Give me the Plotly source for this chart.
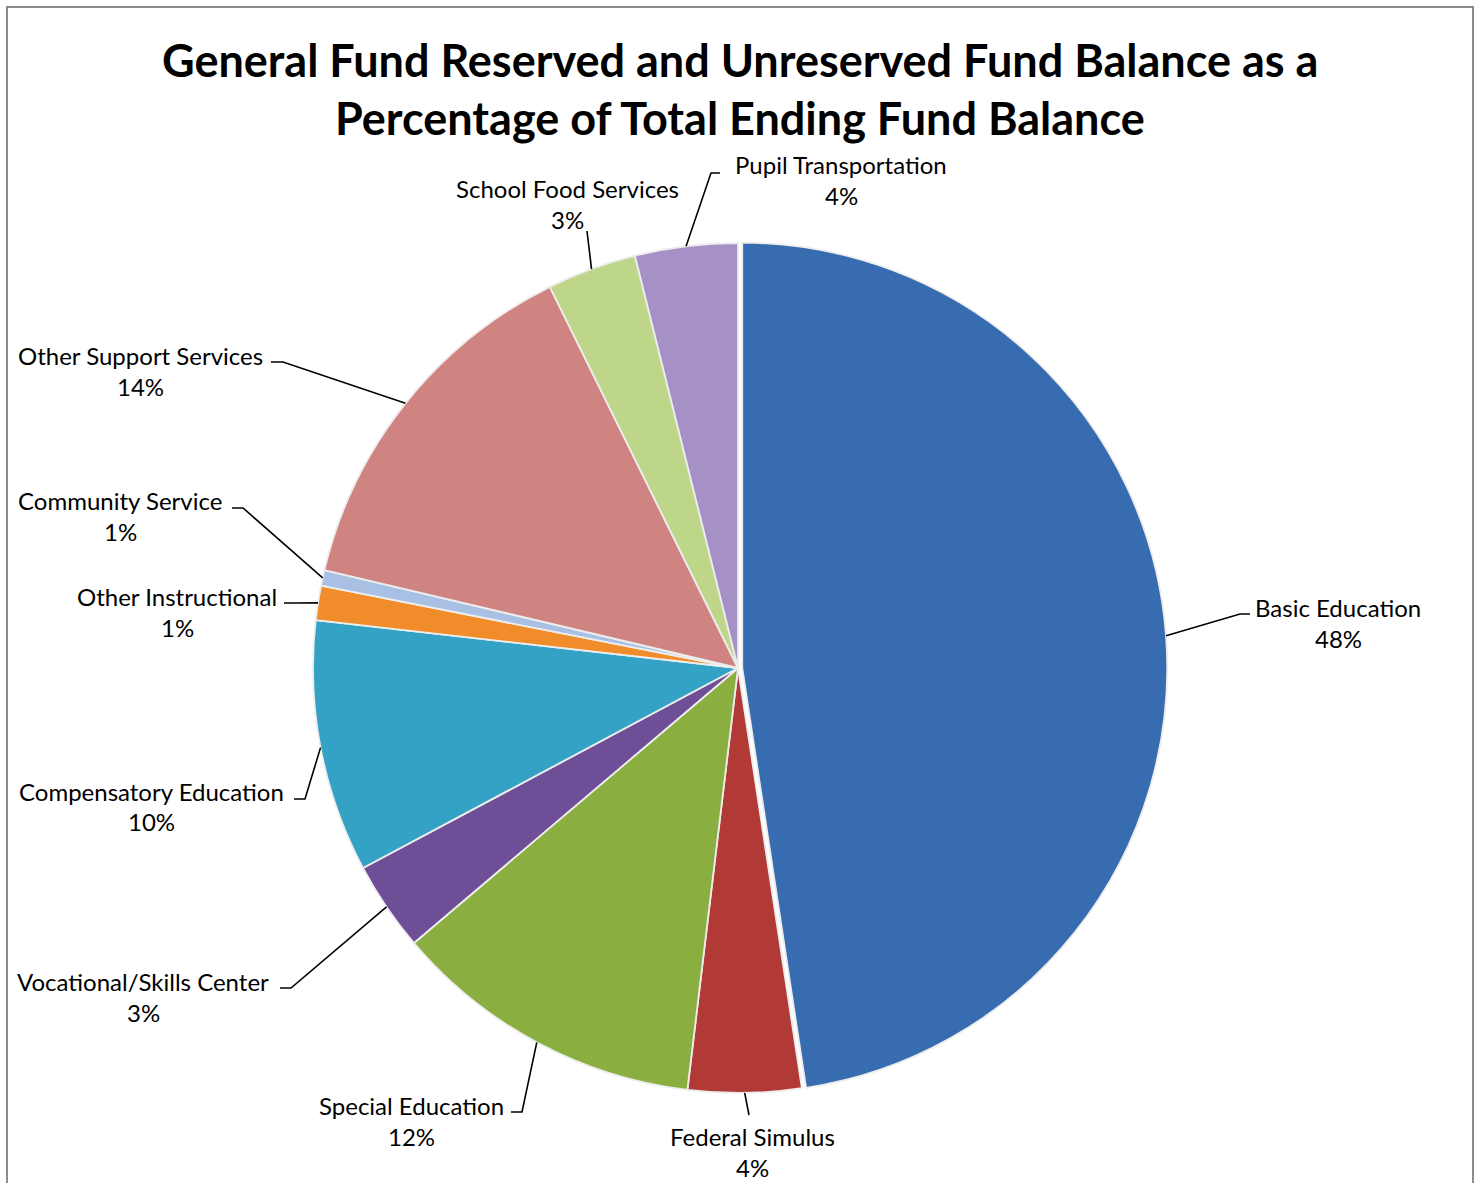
import math
import plotly.graph_objects as go

# Fund balance share by program (percent of total ending fund balance)
programs = [
    "Basic Education",
    "Federal Simulus",
    "Special Education",
    "Vocational/Skills Center",
    "Compensatory Education",
    "Other Instructional",
    "Community Service",
    "Other Support Services",
    "School Food Services",
    "Pupil Transportation",
]
shares = [47.6, 4.3, 11.9, 3.4, 9.6, 1.3, 0.6, 14.0, 3.4, 3.9]
colors = [
    "#386CB0", "#B23A36", "#8AAE40", "#6F4E98", "#34A2C4",
    "#F08C2A", "#A7C0E4", "#D08482", "#BDD68A", "#A691C6",
]
pulls = [0.01, 0, 0, 0, 0, 0, 0, 0, 0, 0]

# Page geometry (pixels)
W, H = 1481, 1183
CX, CY, R = 738, 668, 425

# Label placement: centre of the name line, and the leader-line tail points
# (from the label towards the pie); the pie-side end comes from the slice angle.
label_pos = [
    (1338, 607), (752, 1136), (412, 1105), (143, 981), (151, 791),
    (177, 596), (120, 500), (140, 355), (567, 188), (841, 165),
]
leader_tails = [
    [(1250, 614), (1240, 614)],
    [(749, 1115)],
    [(511, 1112), (522, 1112)],
    [(280, 988), (291, 988)],
    [(294, 799), (305, 799)],
    [(284, 603), (296, 603)],
    [(232, 508), (243, 508)],
    [(271, 362), (283, 362)],
    [(587, 231)],
    [(720, 173), (711, 173)],
]
LINE_GAP = 31  # distance from name line to percent line

FONT = "Lato, 'Open Sans', Arial, sans-serif"


def px(x):
    return x / W


def py(y):
    return 1 - y / H


half = R * (1 + max(pulls))
fig = go.Figure(
    go.Pie(
        labels=programs,
        values=shares,
        sort=False,
        direction="clockwise",
        rotation=0,
        pull=pulls,
        marker=dict(colors=colors, line=dict(color="#EDEDED", width=1.8)),
        textinfo="none",
        hoverinfo="label+percent",
        showlegend=False,
        domain=dict(
            x=[px(CX - half), px(CX + half)],
            y=[py(CY + half), py(CY - half)],
        ),
    )
)

total = sum(shares)
annotations = []
shapes = []
cum = 0.0
for name, val, pull, (lx, ly), tail in zip(programs, shares, pulls, label_pos, leader_tails):
    mid = (cum + val / 2) / total * 2 * math.pi
    cum += val
    ex = CX + R * math.sin(mid) * (1 + pull)
    ey = CY - R * math.cos(mid) * (1 + pull)
    pts = tail + [(ex, ey)]
    path = "M " + " L ".join(f"{px(x):.5f},{py(y):.5f}" for x, y in pts)
    shapes.append(dict(type="path", xref="paper", yref="paper", path=path,
                       line=dict(color="#000000", width=1.6)))
    pct = f"{round(val / total * 100)}%"
    annotations.append(dict(x=px(lx), y=py(ly), xref="paper", yref="paper",
                            text=name, showarrow=False, xanchor="center", yanchor="middle",
                            font=dict(family=FONT, size=24, color="#000000")))
    annotations.append(dict(x=px(lx), y=py(ly + LINE_GAP), xref="paper", yref="paper",
                            text=pct, showarrow=False, xanchor="center", yanchor="middle",
                            font=dict(family=FONT, size=24, color="#000000")))

# Two-line chart title
title_lines = [
    "General Fund Reserved and Unreserved Fund Balance as a",
    "Percentage of Total Ending Fund Balance",
]
for i, t in enumerate(title_lines):
    annotations.append(dict(x=px(740), y=py(60 + 58 * i), xref="paper", yref="paper",
                            text=f"<b>{t}</b>", showarrow=False, xanchor="center",
                            yanchor="middle",
                            font=dict(family=FONT, size=45, color="#000000")))

# Chart-area frame
shapes.append(dict(type="rect", xref="paper", yref="paper",
                   x0=px(7), x1=px(1473), y0=py(1190), y1=py(7),
                   line=dict(color="#8C8C8C", width=2), fillcolor="rgba(0,0,0,0)"))

fig.update_layout(
    width=W,
    height=H,
    margin=dict(l=0, r=0, t=0, b=0),
    paper_bgcolor="#FFFFFF",
    plot_bgcolor="#FFFFFF",
    annotations=annotations,
    shapes=shapes,
)

fig.write_html("out.html")
